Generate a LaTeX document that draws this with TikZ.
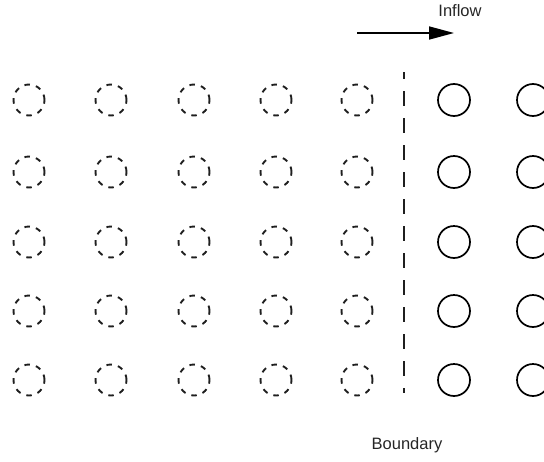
\documentclass[tikz,border=0pt]{standalone}
\usepackage{fontspec}
\setmainfont{Liberation Sans}
\usetikzlibrary{arrows.meta}
\tikzset{
  ghost/.style={circle,draw=black!88,line width=1.9pt,minimum size=31pt,inner sep=0pt,dash pattern=on 5.5pt off 6.2pt},
  solidp/.style={circle,draw=black,line width=1.7pt,minimum size=32pt,inner sep=0pt},
  lbl/.style={font=\fontsize{16.5}{19}\selectfont,text=black!85,inner sep=0pt}
}
\begin{document}
\begin{tikzpicture}[x=1pt,y=-1pt]
\clip (0,0) rectangle (544,461);
\useasboundingbox (0,0) rectangle (544,461);
\foreach \r/\yy in {1/100,2/172,3/242,4/311,5/380}{
  \foreach \c/\xx in {1/29,2/111,3/194,4/276,5/357}{
    \node[ghost] (g\r\c) at (\xx,\yy) {};
  }
  \node[solidp] (s\r1) at (454,\yy) {};
  \node[solidp] (s\r2) at (533,\yy) {};
}
\coordinate (btop) at (404,72);
\coordinate (bbot) at (404,393);
\draw[line width=1.9pt,draw=black!88,dash pattern=on 15pt off 12pt,dash phase=8pt] (btop) -- (bbot);
\node[lbl] (boundary) at (407,445) {Boundary};
\coordinate (astart) at (357,33);
\coordinate (aend) at (454,33);
\draw[line width=1.7pt,-{Triangle[length=25pt,width=13pt]}] (astart) -- (aend);
\node[lbl] (inflow) at (460,11) {Inflow};
\end{tikzpicture}
\end{document}
